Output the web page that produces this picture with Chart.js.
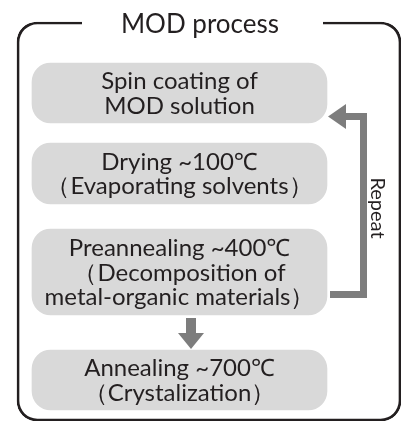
<!DOCTYPE html>
<html lang="en">
<head>
<meta charset="UTF-8">
<title>MOD process</title>
<style>
    body { margin: 0; background: #fff; }
    canvas { display: block; }
</style>
<script src="https://cdn.jsdelivr.net/npm/chart.js"></script>
</head>
<body>
<canvas id="flow" width="401" height="421"></canvas>
<script>
    // process steps, one box each
    const stepLines = [
        ['Spin coating of', 'MOD solution'],
        ['Drying ~100℃', '（Evaporating solvents）'],
        ['Preannealing ~400℃', '（Decomposition of', 'metal-organic materials）'],
        ['Annealing ~700℃', '（Crystalization）']
    ];
    const titleText = 'MOD process';
    const loopText = 'Repeat';

    // layout in canvas units (scales run 0..401 and 0..421)
    const boxTop = [63, 143, 229, 350];
    const boxBottom = [123, 204, 315, 410];
    const loopX = [330, 363.5, 363.5, 345];
    const loopY = [294.5, 294.5, 116.5, 116.5];
    const loopHeadX = [346, 328, 346];
    const loopHeadY = [104, 116.5, 129];
    const downX = [191, 191];
    const downY = [318, 334];
    const downHeadX = [178, 191, 204];
    const downHeadY = [333, 349, 333];

    const ink = '#231f20';
    const arrowGrey = '#7d7d7d';
    const boxGrey = '#d9d9d9';
    const font = 'Lato, "Noto Sans", sans-serif';

    const pts = (xs, ys) => xs.map((x, i) => ({ x: x, y: ys[i] }));

    const labelPlugin = {
        id: 'labels',
        afterDatasetsDraw(chart) {
            const ctx = chart.ctx;
            const xs = chart.scales.x, ys = chart.scales.y;
            ctx.save();
            ctx.fillStyle = ink;
            ctx.textAlign = 'center';
            ctx.textBaseline = 'middle';

            // box texts
            ctx.font = '24px ' + font;
            const boxes = chart.getDatasetMeta(1).data;
            boxes.forEach((bar, i) => {
                const lines = stepLines[i];
                const mid = (bar.y + bar.base) / 2 + 1;
                const lh = 24.5;
                lines.forEach((t, j) => {
                    ctx.fillText(t, bar.x, mid + (j - (lines.length - 1) / 2) * lh);
                });
            });

            // title sits in a gap of the frame
            ctx.fillStyle = '#fff';
            const g0 = xs.getPixelForValue(82), g1 = xs.getPixelForValue(323);
            ctx.fillRect(g0, ys.getPixelForValue(19), g1 - g0, 8);
            ctx.fillStyle = ink;
            ctx.font = '26px ' + font;
            ctx.fillText(titleText, xs.getPixelForValue(200), ys.getPixelForValue(25));

            // rotated loop label
            ctx.translate(xs.getPixelForValue(377), ys.getPixelForValue(208));
            ctx.rotate(Math.PI / 2);
            ctx.font = '20px ' + font;
            ctx.fillText(loopText, 0, 0);
            ctx.restore();
        }
    };

    const lineDs = (data, width, fill) => ({
        type: 'line',
        data: data,
        borderColor: arrowGrey,
        backgroundColor: arrowGrey,
        borderWidth: width,
        borderJoinStyle: 'miter',
        pointRadius: 0,
        tension: 0,
        fill: fill
    });

    new Chart(document.getElementById('flow'), {
        type: 'bar',
        data: {
            datasets: [
                {
                    // outer rounded frame
                    data: [{ x: 209, y: [22, 421] }],
                    barThickness: 384,
                    stack: 'all',
                    backgroundColor: 'rgba(0,0,0,0)',
                    borderColor: ink,
                    borderWidth: 2,
                    borderRadius: 20,
                    borderSkipped: false
                },
                {
                    data: boxTop.map((t, i) => ({ x: 179.5, y: [t, boxBottom[i]] })),
                    barThickness: 295,
                    stack: 'all',
                    backgroundColor: boxGrey,
                    borderWidth: 0,
                    borderRadius: 19,
                    borderSkipped: false
                },
                lineDs(pts(loopX, loopY), 7, false),
                lineDs(pts(loopHeadX, loopHeadY), 0, 'shape'),
                lineDs(pts(downX, downY), 10, false),
                lineDs(pts(downHeadX, downHeadY), 0, 'shape')
            ]
        },
        options: {
            responsive: false,
            animation: false,
            events: [],
            layout: { padding: 0 },
            scales: {
                x: { type: 'linear', min: 0, max: 401, display: false, offset: false },
                y: { type: 'linear', min: 0, max: 421, reverse: true, display: false, stacked: false }
            },
            plugins: {
                legend: { display: false },
                tooltip: { enabled: false }
            }
        },
        plugins: [labelPlugin]
    });
</script>
</body>
</html>
